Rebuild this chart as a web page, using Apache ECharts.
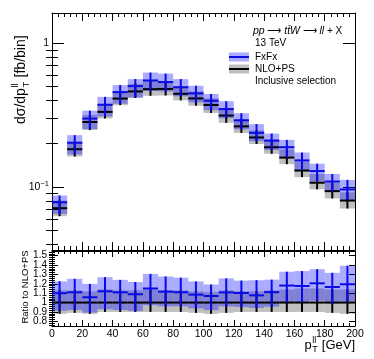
<!DOCTYPE html>
<html>
<head>
<meta charset="utf-8">
<script src="https://cdn.jsdelivr.net/npm/echarts@6/dist/echarts.min.js"></script>
<style>
  html, body { margin: 0; padding: 0; background: #fff; }
  #chart { width: 374px; height: 359px; }
</style>
</head>
<body>
<div id="chart"></div>
<script>
// bins of 10 GeV in p_T(ll)
const binLow = [0, 10, 20, 30, 40, 50, 60, 70, 80, 90, 100, 110, 120, 130, 140, 150, 160, 170, 180, 190];
const binWidth = 10;

// central values [fb/bin]
const nloPS = [0.0711, 0.183, 0.283, 0.333, 0.412, 0.462, 0.479, 0.481, 0.445, 0.413,
  0.372, 0.314, 0.264, 0.221, 0.189, 0.160, 0.130, 0.107, 0.0935, 0.0804];
const fxfx = [0.0782, 0.203, 0.299, 0.373, 0.457, 0.503, 0.551, 0.537, 0.494, 0.448,
  0.398, 0.348, 0.291, 0.238, 0.210, 0.189, 0.153, 0.129, 0.109, 0.0961];

// band half widths, percent of the central value
const fxUp = [11.5, 13, 13.5, 13.5, 12, 12, 13.5, 14.5, 14, 13, 11.5, 13.5, 12, 15, 12, 12.5, 13.5, 12.5, 13, 16.5];
const fxDown = [17, 17, 15.5, 17, 17, 16.5, 15.5, 14, 13.5, 13.5, 14, 13.5, 13.5, 12.5, 14, 15, 14.5, 15.5, 15, 15.5];
const nloUp = [13, 13, 12, 14, 13, 13, 14, 13, 13, 12, 11, 13, 12, 12, 13, 14, 15, 15, 14, 14];
const nloDown = [12, 11, 12, 10, 10, 10, 10, 10, 10, 11, 12, 11, 10, 10, 10, 10, 10, 10, 11, 12];

// tick positions
const logMinorTicks = [0.04, 0.05, 0.06, 0.07, 0.08, 0.09, 0.2, 0.3, 0.4, 0.5, 0.6, 0.7, 0.8, 0.9];
const ratioTicks = [0.8, 0.9, 1, 1.1, 1.2, 1.3, 1.4, 1.5];
const ratioMinorTicks = [];
for (let v = 76; v <= 154; v += 2) ratioMinorTicks.push(v / 100);

const FONT = '"Liberation Sans", Arial, Helvetica, sans-serif';
const Y_MIN = 0.0364;
const Y_MAX = 1.624;
const R_MIN = 0.75;
const R_MAX = 1.55;
const BLUE = '#0a0ae6';
const BLUE_BAND = 'rgba(0,0,255,0.33)';
const GREY_BAND = 'rgba(0,0,0,0.25)';

const chart = echarts.init(document.getElementById('chart'), null, { renderer: 'canvas' });

function rows(centre, up, down, norm) {
  return binLow.map((lo, i) => {
    const n = norm ? norm[i] : 1;
    return [lo, lo + binWidth, centre[i] / n,
      centre[i] * (1 - down[i] / 100) / n, centre[i] * (1 + up[i] / 100) / n];
  });
}

function bandItem(color) {
  return (params, api) => {
    const a = api.coord([api.value(0), api.value(4)]);
    const b = api.coord([api.value(1), api.value(3)]);
    return {
      type: 'rect',
      shape: { x: a[0], y: a[1], width: b[0] - a[0], height: b[1] - a[1] },
      style: { fill: color },
    };
  };
}

function crossItem(color) {
  return (params, api) => {
    const x0 = api.value(0);
    const x1 = api.value(1);
    const mid = (x0 + x1) / 2;
    const l = api.coord([x0, api.value(2)]);
    const r = api.coord([x1, api.value(2)]);
    const t = api.coord([mid, api.value(4)]);
    const u = api.coord([mid, api.value(3)]);
    return {
      type: 'group',
      children: [
        { type: 'line', shape: { x1: l[0], y1: l[1], x2: r[0], y2: r[1] }, style: { stroke: color, lineWidth: 2 } },
        { type: 'line', shape: { x1: t[0], y1: t[1], x2: u[0], y2: u[1] }, style: { stroke: color, lineWidth: 2 } },
      ],
    };
  };
}

function series(data, xi, yi, render, z) {
  return {
    type: 'custom', xAxisIndex: xi, yAxisIndex: yi, z,
    renderItem: render, data, encode: { x: [0, 1], y: [2, 3, 4] }, silent: true, clip: true,
  };
}

const lineStyle = { color: '#000', width: 1 };

function xAxis(gridIndex, position, showLabels) {
  return {
    type: 'value', gridIndex, position, min: 0, max: 200, interval: 20,
    axisLine: { show: true, onZero: false, lineStyle },
    axisTick: { show: true, inside: true, length: gridIndex === 0 ? 8 : 6, lineStyle },
    minorTick: { show: true, splitNumber: 5, length: gridIndex === 0 ? 4 : 3, lineStyle },
    axisLabel: { show: showLabels, fontFamily: FONT, fontSize: 10.5, color: '#000', margin: 3 },
    splitLine: { show: false },
  };
}

function logAxis(position, showLabels) {
  return {
    type: 'log', logBase: 10, gridIndex: 0, position, min: Y_MIN, max: Y_MAX,
    axisLine: { show: true, onZero: false, lineStyle },
    axisTick: { show: true, inside: true, length: 12, lineStyle },
    axisLabel: {
      show: showLabels, margin: 3, showMinLabel: false, showMaxLabel: false,
      formatter: (v) => {
        if (Math.abs(v - 1) < 1e-6) return '{b|1}';
        if (Math.abs(v - 0.1) < 1e-7) return '{b|10}{s|\u22121}';
        return '';
      },
      rich: {
        b: { fontFamily: FONT, fontSize: 10.5, color: '#000', lineHeight: 14 },
        s: { fontFamily: FONT, fontSize: 7.5, color: '#000', lineHeight: 6, verticalAlign: 'top' },
      },
    },
    splitLine: { show: false },
  };
}

function logMinorAxis(position) {
  return {
    type: 'value', gridIndex: 0, position, min: Math.log10(Y_MIN), max: Math.log10(Y_MAX),
    axisLine: { show: false },
    axisTick: { show: true, inside: true, length: 6, lineStyle, customValues: logMinorTicks.map(Math.log10) },
    axisLabel: { show: false },
    splitLine: { show: false },
  };
}

function ratioAxis(position, showLabels) {
  return {
    type: 'value', gridIndex: 1, position, min: R_MIN, max: R_MAX, interval: 0.05,
    axisLine: { show: true, onZero: false, lineStyle },
    axisTick: { show: true, inside: true, length: 6, lineStyle, customValues: ratioTicks },
    axisLabel: {
      show: showLabels, fontFamily: FONT, fontSize: 10, lineHeight: 7,
      color: '#000', margin: 5, showMinLabel: false, showMaxLabel: false,
      formatter: (v) => {
        const k = Math.round(v * 100);
        return k % 10 === 0 ? String(k / 100) : '';
      },
    },
    splitLine: { show: false },
  };
}

function ratioMinorAxis(position) {
  return {
    type: 'value', gridIndex: 1, position, min: R_MIN, max: R_MAX,
    axisLine: { show: false },
    axisTick: { show: true, inside: true, length: 3, lineStyle, customValues: ratioMinorTicks },
    axisLabel: { show: false },
    splitLine: { show: false },
  };
}

// text helpers for the axis titles with sub/superscripts
const measureCtx = document.createElement('canvas').getContext('2d');
function textW(str, size) {
  measureCtx.font = size + 'px ' + FONT;
  return measureCtx.measureText(str).width;
}
function txt(text, x, y, size, extra) {
  return {
    type: 'text', x, y, silent: true,
    style: Object.assign({ text, fontFamily: FONT, fontSize: size, fill: '#000', verticalAlign: 'middle' }, extra || {}),
  };
}
function scriptTitle(base, tail, size, small) {
  const w1 = textW(base, size);
  const ws = Math.max(textW('ll', small), textW('T', small));
  return {
    width: w1 + ws + 1 + textW(tail, size),
    children: [
      txt(base, 0, 0, size),
      txt('ll', w1 + 0.5, -size * 0.38, small),
      txt('T', w1 + 0.5, size * 0.38, small),
      txt(tail, w1 + ws + 1, 0, size),
    ],
  };
}

const yTitle = scriptTitle('d\u03c3/dp', ' [fb/bin]', 14, 9.5);
const xTitle = scriptTitle('p', ' [GeV]', 13, 9);

const legendEntries = [
  { label: 'FxFx', band: BLUE_BAND, line: BLUE, y: 57 },
  { label: 'NLO+PS', band: GREY_BAND, line: '#000', y: 69 },
];
const legendGraphics = [];
legendEntries.forEach((e) => {
  legendGraphics.push({ type: 'rect', shape: { x: 229, y: e.y - 4.5, width: 20, height: 9 }, style: { fill: e.band }, silent: true });
  legendGraphics.push({ type: 'line', shape: { x1: 229, y1: e.y, x2: 249, y2: e.y }, style: { stroke: e.line, lineWidth: 2 }, silent: true });
  legendGraphics.push(txt(e.label, 255, e.y, 10));
});

const option = {
  animation: false,
  backgroundColor: '#fff',
  grid: [
    { left: 52, right: 19, top: 13, height: 237 },
    { left: 52, right: 19, top: 251, height: 75 },
  ],
  xAxis: [
    xAxis(0, 'bottom', false),
    xAxis(0, 'top', false),
    xAxis(1, 'bottom', true),
    xAxis(1, 'top', false),
  ],
  yAxis: [
    logAxis('left', true),
    logAxis('right', false),
    logMinorAxis('left'),
    logMinorAxis('right'),
    ratioAxis('left', true),
    ratioAxis('right', false),
    ratioMinorAxis('left'),
    ratioMinorAxis('right'),
  ],
  series: [
    series(rows(nloPS, nloUp, nloDown), 0, 0, bandItem(GREY_BAND), 1),
    series(rows(fxfx, fxUp, fxDown), 0, 0, bandItem(BLUE_BAND), 2),
    series(rows(nloPS, nloUp, nloDown), 0, 0, crossItem('#000'), 3),
    series(rows(fxfx, fxUp, fxDown), 0, 0, crossItem(BLUE), 4),
    series(rows(nloPS, nloUp, nloDown, nloPS), 2, 4, bandItem(GREY_BAND), 1),
    series(rows(fxfx, fxUp, fxDown, nloPS), 2, 4, bandItem(BLUE_BAND), 2),
    series(rows(nloPS, nloUp, nloDown, nloPS), 2, 4, crossItem('#000'), 3),
    series(rows(fxfx, fxUp, fxDown, nloPS), 2, 4, crossItem(BLUE), 4),
  ],
  graphic: [
    { type: 'group', x: 21, y: 124, rotation: Math.PI / 2, children: yTitle.children },
    { type: 'group', x: 355 - xTitle.width, y: 345, children: xTitle.children },
    { type: 'group', x: 25, y: 287, rotation: Math.PI / 2,
      children: [txt('Ratio to NLO+PS', 0, 0, 9.5, { align: 'center' })] },
    {
      type: 'text', x: 253, y: 31, silent: true,
      style: {
        text: '{i|pp} \u27f6 {i|tt\u0304W} \u27f6 {i|ll} + X',
        fontFamily: FONT, fontSize: 10, fill: '#000', verticalAlign: 'middle',
        rich: { i: { fontStyle: 'italic', fontFamily: FONT, fontSize: 10.5, fill: '#000' } },
      },
    },
    txt('13 TeV', 255, 43, 10),
    txt('Inclusive selection', 255, 81, 10),
  ].concat(legendGraphics),
};

chart.setOption(option);
</script>
</body>
</html>
